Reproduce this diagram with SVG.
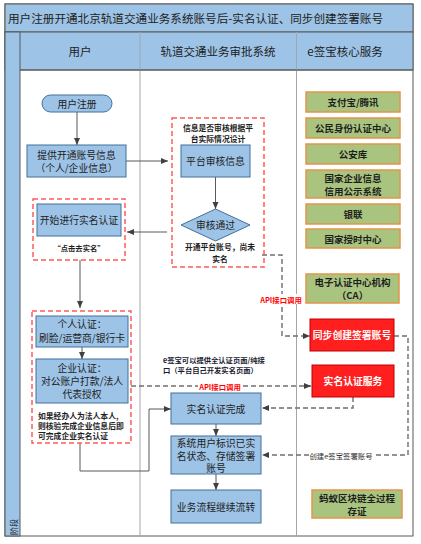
<svg xmlns="http://www.w3.org/2000/svg" width="421" height="544" viewBox="0 0 421 544">
<style>
text{font-family:"Noto Sans CJK SC","Liberation Sans",sans-serif;fill:#1e1e1e;dominant-baseline:central;text-anchor:middle}
.hdr{font-size:11.5px}
.bx{fill:#9DC3E6;stroke:#41719C;stroke-width:1}
.bt{font-size:9.8px}
.gr{fill:#A9C47E;stroke:#E3954B;stroke-width:1.5}
.gt{font-size:9.5px;font-weight:bold}
.rd{fill:#FF1F1F;stroke:#C00000;stroke-width:1}
.rt{font-size:9.8px;font-weight:bold;fill:#ffffff}
.rdash{fill:none;stroke:#FF5B5B;stroke-width:1.5;stroke-dasharray:5,3}
.note{font-size:7.8px;font-weight:bold}
.api{font-size:7.4px;font-weight:bold;fill:#FF0000}
.ln{fill:none;stroke:#595959;stroke-width:1}
.dl{fill:none;stroke:#6f6f6f;stroke-width:1.4;stroke-dasharray:5,3}
.lane{stroke:#A6A6A6;stroke-width:1}
</style>
<defs>
<marker id="ah" markerWidth="8" markerHeight="8" refX="7" refY="4" orient="auto" markerUnits="userSpaceOnUse">
<path d="M0,1 L7,4 L0,7 Z" fill="#404040"/>
</marker>
</defs>
<!-- frame -->
<g id="frame">
<rect x="5" y="4" width="408" height="532" fill="#ffffff" stroke="#595959" stroke-width="1"/>
<rect x="5" y="4" width="408" height="28" fill="#9DC3E6" stroke="#595959" stroke-width="1"/>
<rect x="5" y="32" width="408" height="38" fill="#9DC3E6" stroke="#595959" stroke-width="1"/>
<rect x="5" y="32" width="15" height="504" fill="#9DC3E6" stroke="#595959" stroke-width="1"/>
<line class="lane" x1="140" y1="32" x2="140" y2="536"/>
<line class="lane" x1="296.5" y1="32" x2="296.5" y2="536"/>
<line x1="20" y1="70" x2="413" y2="70" stroke="#595959" stroke-width="1"/>
<text x="8" y="18" style="text-anchor:start;font-size:11.6px">用户注册开通北京轨道交通业务系统账号后-实名认证、同步创建签署账号</text>
<text class="hdr" x="80" y="51">用户</text>
<text class="hdr" x="218" y="51">轨道交通业务审批系统</text>
<text class="hdr" x="345" y="51">e签宝核心服务</text>
<text x="13" y="527" transform="rotate(-90 13 527)" style="font-size:8px">阶段</text>
</g>
<!-- connectors -->
<g id="connectors">
<line class="ln" x1="77" y1="112" x2="77" y2="145" marker-end="url(#ah)"/>
<line class="ln" x1="126" y1="161" x2="168" y2="161" marker-end="url(#ah)"/>
<line class="ln" x1="215.5" y1="177" x2="215.5" y2="209" marker-end="url(#ah)"/>
<line class="ln" x1="167" y1="232" x2="127" y2="232" marker-end="url(#ah)"/>
<line class="ln" x1="80" y1="260" x2="80" y2="308" marker-end="url(#ah)"/>
<line class="ln" x1="82" y1="347" x2="82" y2="359" marker-end="url(#ah)"/>
<polyline class="ln" points="80,443 80,471 149,471 149,409 171,409" marker-end="url(#ah)"/>
<line class="ln" x1="216" y1="424" x2="216" y2="436" marker-end="url(#ah)"/>
<line class="ln" x1="216" y1="474" x2="216" y2="490" marker-end="url(#ah)"/>
<polyline class="dl" points="262,255 282,255 282,336 310,336" marker-end="url(#ah)"/>
<line class="dl" x1="131" y1="386" x2="311" y2="386" marker-end="url(#ah)"/>
<polyline class="dl" points="353,397 353,408 262,408" marker-end="url(#ah)"/>
<polyline class="dl" points="394,336 408,336 408,455 262,455" marker-end="url(#ah)"/>
<rect x="259" y="294" width="44" height="10" fill="#ffffff"/>
<text class="api" x="281" y="299">API接口调用</text>
<rect x="198" y="381" width="44" height="10" fill="#ffffff"/>
<text class="api" x="220" y="386">API接口调用</text>
<text x="163" y="360" style="text-anchor:start;font-size:7.3px;font-weight:bold;fill:#1a1a2e">e签宝可以提供全认证页面/纯接</text>
<text x="163" y="370" style="text-anchor:start;font-size:7.3px;font-weight:bold;fill:#1a1a2e">口（平台自己开发实名页面）</text>
<rect x="309" y="450" width="65" height="10" fill="#ffffff"/>
<text x="341" y="455" style="font-size:7.4px;fill:#333">创建e签宝签署账号</text>
</g>
<!-- user lane -->
<g id="n-register">
<rect class="bx" x="42" y="95" width="70" height="17" rx="8.5"/>
<text class="bt" x="77" y="103.5">用户注册</text>
</g>
<g id="n-provide">
<rect class="bx" x="27" y="145" width="99" height="32"/>
<text class="bt" x="76.5" y="154.5">提供开通账号信息</text>
<text class="bt" x="76.5" y="167.5">（个人/企业信息）</text>
</g>
<g id="g-start">
<rect class="rdash" x="33" y="199" width="92" height="61"/>
<rect class="bx" x="37" y="204" width="84" height="32"/>
<text class="bt" x="79" y="220">开始进行实名认证</text>
<text class="note" x="79" y="248" style="font-size:7.3px">“点击去实名”</text>
</g>
<g id="g-auth">
<rect class="rdash" x="32" y="311" width="99" height="132"/>
<rect class="bx" x="36" y="316" width="92" height="31"/>
<text class="bt" x="82" y="324">个人认证：</text>
<text class="bt" x="82" y="338">刷脸/运营商/银行卡</text>
<rect class="bx" x="36" y="359" width="92" height="44"/>
<text class="bt" x="82" y="368">企业认证：</text>
<text class="bt" x="82" y="381">对公账户打款/法人</text>
<text class="bt" x="82" y="394">代表授权</text>
<text class="note" x="38" y="415" style="text-anchor:start">如果经办人为法人本人,</text>
<text class="note" x="38" y="425" style="text-anchor:start">则核验完成企业信息后即</text>
<text class="note" x="38" y="435" style="text-anchor:start">可完成企业实名认证</text>
</g>
<!-- approval lane -->
<g id="g-review">
<rect class="rdash" x="172" y="118" width="92" height="149"/>
<text class="note" x="218" y="127">信息是否审核根据平</text>
<text class="note" x="218" y="138">台实际情况设计</text>
<rect class="bx" x="181" y="145" width="69" height="32"/>
<text class="bt" x="215.5" y="161">平台审核信息</text>
<polygon class="bx" points="215.5,209 250,225 215.5,241 181,225"/>
<text class="bt" x="215.5" y="225">审核通过</text>
<text class="note" x="220" y="246">开通平台账号，尚未</text>
<text class="note" x="220" y="258">实名</text>
</g>
<g id="n-done">
<rect class="bx" x="171" y="393" width="90" height="31"/>
<text class="bt" x="216" y="408.5">实名认证完成</text>
</g>
<g id="n-store">
<rect class="bx" x="171" y="436" width="90" height="38"/>
<text class="bt" x="216" y="443">系统用户标识已实</text>
<text class="bt" x="216" y="455.5">名状态、存储签署</text>
<text class="bt" x="216" y="468">账号</text>
</g>
<g id="n-continue">
<rect class="bx" x="171" y="490" width="90" height="33"/>
<text class="bt" x="216" y="506.5">业务流程继续流转</text>
</g>
<!-- esign lane -->
<g id="n-alipay"><rect class="gr" x="306" y="92" width="94" height="20"/><text class="gt" x="353" y="102">支付宝/腾讯</text></g>
<g id="n-citizen"><rect class="gr" x="306" y="118" width="94" height="20"/><text class="gt" x="353" y="128">公民身份认证中心</text></g>
<g id="n-police"><rect class="gr" x="306" y="144" width="94" height="20"/><text class="gt" x="353" y="154">公安库</text></g>
<g id="n-credit"><rect class="gr" x="306" y="170" width="94" height="28"/><text class="gt" x="353" y="177.5">国家企业信息</text><text class="gt" x="353" y="190.5">信用公示系统</text></g>
<g id="n-unionpay"><rect class="gr" x="306" y="204" width="94" height="20"/><text class="gt" x="353" y="214">银联</text></g>
<g id="n-time"><rect class="gr" x="306" y="229" width="94" height="19"/><text class="gt" x="353" y="238.5">国家授时中心</text></g>
<g id="n-ca"><rect class="gr" x="306" y="274" width="93" height="29"/><text class="gt" x="352.5" y="281.5">电子认证中心机构</text><text class="gt" x="352.5" y="294.5">（CA）</text></g>
<g id="n-sync"><rect class="rd" x="310" y="319" width="84" height="32"/><text class="rt" x="352" y="335">同步创建签署账号</text></g>
<g id="n-realname"><rect class="rd" x="312" y="365" width="82" height="32"/><text class="rt" x="353" y="381">实名认证服务</text></g>
<g id="n-chain"><rect class="gr" x="312" y="490" width="90" height="28"/><text class="gt" x="357" y="498">蚂蚁区块链全过程</text><text class="gt" x="357" y="510.5">存证</text></g>
</svg>
